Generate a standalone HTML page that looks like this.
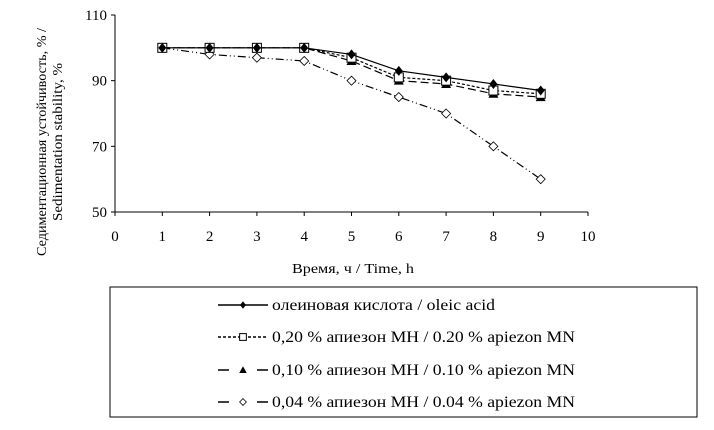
<!DOCTYPE html>
<html><head><meta charset="utf-8"><style>
body{margin:0;background:#fff;font-family:"Liberation Serif",serif;}
svg text{font-family:"Liberation Serif","DejaVu Serif",serif;fill:#000;}
</style></head><body>
<svg width="714" height="425" xmlns="http://www.w3.org/2000/svg">
<g id="axes"></g><g id="series"></g>
<text x="353" y="273" font-size="14" text-anchor="middle" textLength="122" lengthAdjust="spacingAndGlyphs">Время, ч / Time, h</text>
<g transform="translate(52,142) rotate(-90)">
<text x="0" y="-6" font-size="14" text-anchor="middle" textLength="228" lengthAdjust="spacingAndGlyphs">Седиментационная устойчивость, % /</text>
<text x="0" y="10" font-size="14" text-anchor="middle" textLength="158" lengthAdjust="spacingAndGlyphs">Sedimentation stability, %</text></g>
<rect x="110" y="287" width="587" height="130" fill="none" stroke="#000" stroke-width="1"/>
<g id="legend"></g>
</svg>
<script>
const xTicks=[0,1,2,3,4,5,6,7,8,9,10];
const yTicks=[50,70,90,110];
const times=[1,2,3,4,5,6,7,8,9];
const sOleic=[100,100,100,100,98,93,91,89,87];
const s020=[100,100,100,100,97,91,90,87,86];
const s010=[100,100,100,100,96,90,89,86,85];
const s004=[100,98,97,96,90,85,80,70,60];
const labels=["олеиновая кислота / oleic acid","0,20 % апиезон МН / 0.20 % apiezon MN","0,10 % апиезон МН / 0.10 % apiezon MN","0,04 % апиезон МН / 0.04 % apiezon MN"];
const NS="http://www.w3.org/2000/svg";
const X=v=>115+v*47.3, Y=v=>212-(v-50)*(197/60);
function mk(t,a,p){const e=document.createElementNS(NS,t);for(const k in a)e.setAttribute(k,a[k]);p.appendChild(e);return e;}
const ax=document.getElementById('axes');
const xl=mk('line',{x1:X(0),x2:X(10),y1:Y(50),y2:Y(50),stroke:'#000'},ax);


const yl=mk('line',{x1:X(0),x2:X(0),y1:Y(50),y2:Y(110),stroke:'#000'},ax);


xTicks.forEach(t=>{mk('line',{x1:X(t),x2:X(t),y1:Y(50),y2:Y(50)+4,stroke:'#000'},ax);
const tx=mk('text',{x:X(t),y:241,'font-size':15,'text-anchor':'middle'},ax);tx.textContent=t;

});
yTicks.forEach(t=>{mk('line',{x1:X(0)-4,x2:X(0),y1:Y(t),y2:Y(t),stroke:'#000'},ax);
const tx=mk('text',{x:X(0)-8,y:Y(t)+5,'font-size':15,'text-anchor':'end'},ax);tx.textContent=t;

});
function marker(type,x,y,p,s){
 s=s||1;
 if(type==0) return mk('path',{d:`M${x} ${y-5*s}L${x+4*s} ${y}L${x} ${y+5*s}L${x-4*s} ${y}Z`,fill:'#000'},p);
 if(type==1) return mk('rect',{x:x-4.5*s,y:y-4.5*s,width:9*s,height:9*s,fill:'#fff',stroke:'#000'},p);
 if(type==2) return mk('path',{d:`M${x} ${y-5*s}L${x+5*s} ${y+4*s}L${x-5*s} ${y+4*s}Z`,fill:'#000'},p);
 return mk('path',{d:`M${x} ${y-4.5*s}L${x+4.5*s} ${y}L${x} ${y+4.5*s}L${x-4.5*s} ${y}Z`,fill:'#fff',stroke:'#000','stroke-width':0.8},p);
}
const dashes=['none','3,2','8,4','8,3,1,3,1,3'];
const series=[sOleic,s020,s010,s004];
const names=['series-oleic-acid','series-apiezon-020','series-apiezon-010','series-apiezon-004'];
const sg=document.getElementById('series');
[3,2,1,0].forEach(i=>{
 const g=mk('g',{},sg);
 
 
 mk('polyline',{points:times.map((t,j)=>X(t)+','+Y(series[i][j])).join(' '),fill:'none',stroke:'#000','stroke-width':1.2,'stroke-dasharray':dashes[i]},g);
 times.forEach((t,j)=>{const m=marker(i,X(t),Y(series[i][j]),g);
 
 });
});
const lg=document.getElementById('legend');
const ly=[305,337,370,402];
const lw=[223,303,303,303];
labels.forEach((l,i)=>{
 const g=mk('g',{},lg);
 
 
 mk('line',{x1:218,x2:268,y1:ly[i],y2:ly[i],stroke:'#000','stroke-width':1.4,'stroke-dasharray':i==1?'3,2':(i>1?'11,28':'none')},g);
 marker(i,243,ly[i],g,0.75);
 const t=mk('text',{x:272,y:ly[i]+5,'font-size':16,textLength:lw[i],lengthAdjust:'spacingAndGlyphs'},g);t.textContent=l;
});
</script>
</body></html>
